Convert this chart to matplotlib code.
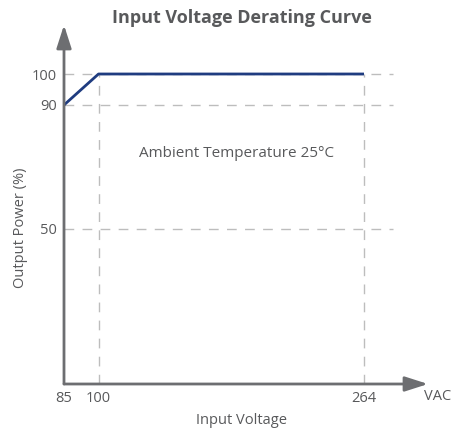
import numpy as np
import matplotlib.pyplot as plt

# data
volt = [85, 100, 264]
power = [90, 100, 100]
xticks = [85, 100, 264]
yticks = [50, 90, 100]
vlines = [100, 264]
title = 'Input Voltage Derating Curve'
note = 'Ambient Temperature 25°C'

plt.rcParams['font.family'] = ['Open Sans', 'DejaVu Sans']

# schematic x axis: 85-100 is stretched out like in the datasheet
xs_in = np.array([85, 100, 264, 400])
xs_out = np.array([0, 34.5, 300, 300 + 136 * 1.618])


def fwd(x):
    return np.interp(x, xs_in, xs_out)


def inv(x):
    return np.interp(x, xs_out, xs_in)


axis_c = '#6d6e71'
grid_c = '#bdbdbd'
text_c = '#58595b'
line_c = '#1f3c80'

fig = plt.figure(figsize=(4.57, 4.32), dpi=100)
W, H = 457, 432
left, bottom, right, top = 64, 384, 428, 25
ax = fig.add_axes([left / W, 1 - bottom / H, (right - left) / W, (bottom - top) / H])
ax.set_xscale('function', functions=(fwd, inv))
ax.set_xlim(85, inv(364))
ax.set_ylim(0, (bottom - top) / 3.1)
for s in ax.spines.values():
    s.set_visible(False)

xend = inv(329)
for y in yticks:
    ax.plot([85, xend], [y, y], color=grid_c, lw=1, ls=(0, (7, 6)), zorder=1)
for x in vlines:
    ax.plot([x, x], [0, 100], color=grid_c, lw=1, ls=(0, (7, 6)), zorder=1)

ax.plot(volt, power, color=line_c, lw=2, zorder=3, solid_capstyle='butt')

# axes with arrows
arrow = dict(arrowstyle='-|>,head_length=1.4,head_width=0.45',
             color=axis_c, lw=2, shrinkA=0, shrinkB=0)
ax.annotate('', xy=(1, 0), xycoords='axes fraction', xytext=(0, 0), arrowprops=arrow, zorder=4)
ax.annotate('', xy=(0, 1), xycoords='axes fraction', xytext=(0, 0), arrowprops=arrow, zorder=4)

ax.set_xticks(xticks)
ax.set_xticklabels([str(v) for v in xticks])
ax.set_yticks(yticks)
ax.set_yticklabels([str(v) for v in yticks])
ax.tick_params(length=0, labelsize=10.5, colors=text_c, pad=5)
ax.minorticks_off()

ax.text(inv(173), 74.2, note, ha='center', va='center', fontsize=11, color=text_c)
fig.text(438 / W, 1 - 396 / H, 'VAC', ha='center', va='center', fontsize=10.5, color=text_c)
fig.text(242 / W, 1 - 421 / H, 'Input Voltage', ha='center', va='center', fontsize=10.5, color=text_c)
fig.text(21 / W, 1 - 228 / H, 'Output Power (%)', ha='center', va='center', rotation=90,
         fontsize=10.5, color=text_c)
fig.text(242 / W, 1 - 18 / H, title, ha='center', va='center', fontsize=13,
         fontweight='bold', color=text_c)

fig.savefig('out.png', dpi=100)
